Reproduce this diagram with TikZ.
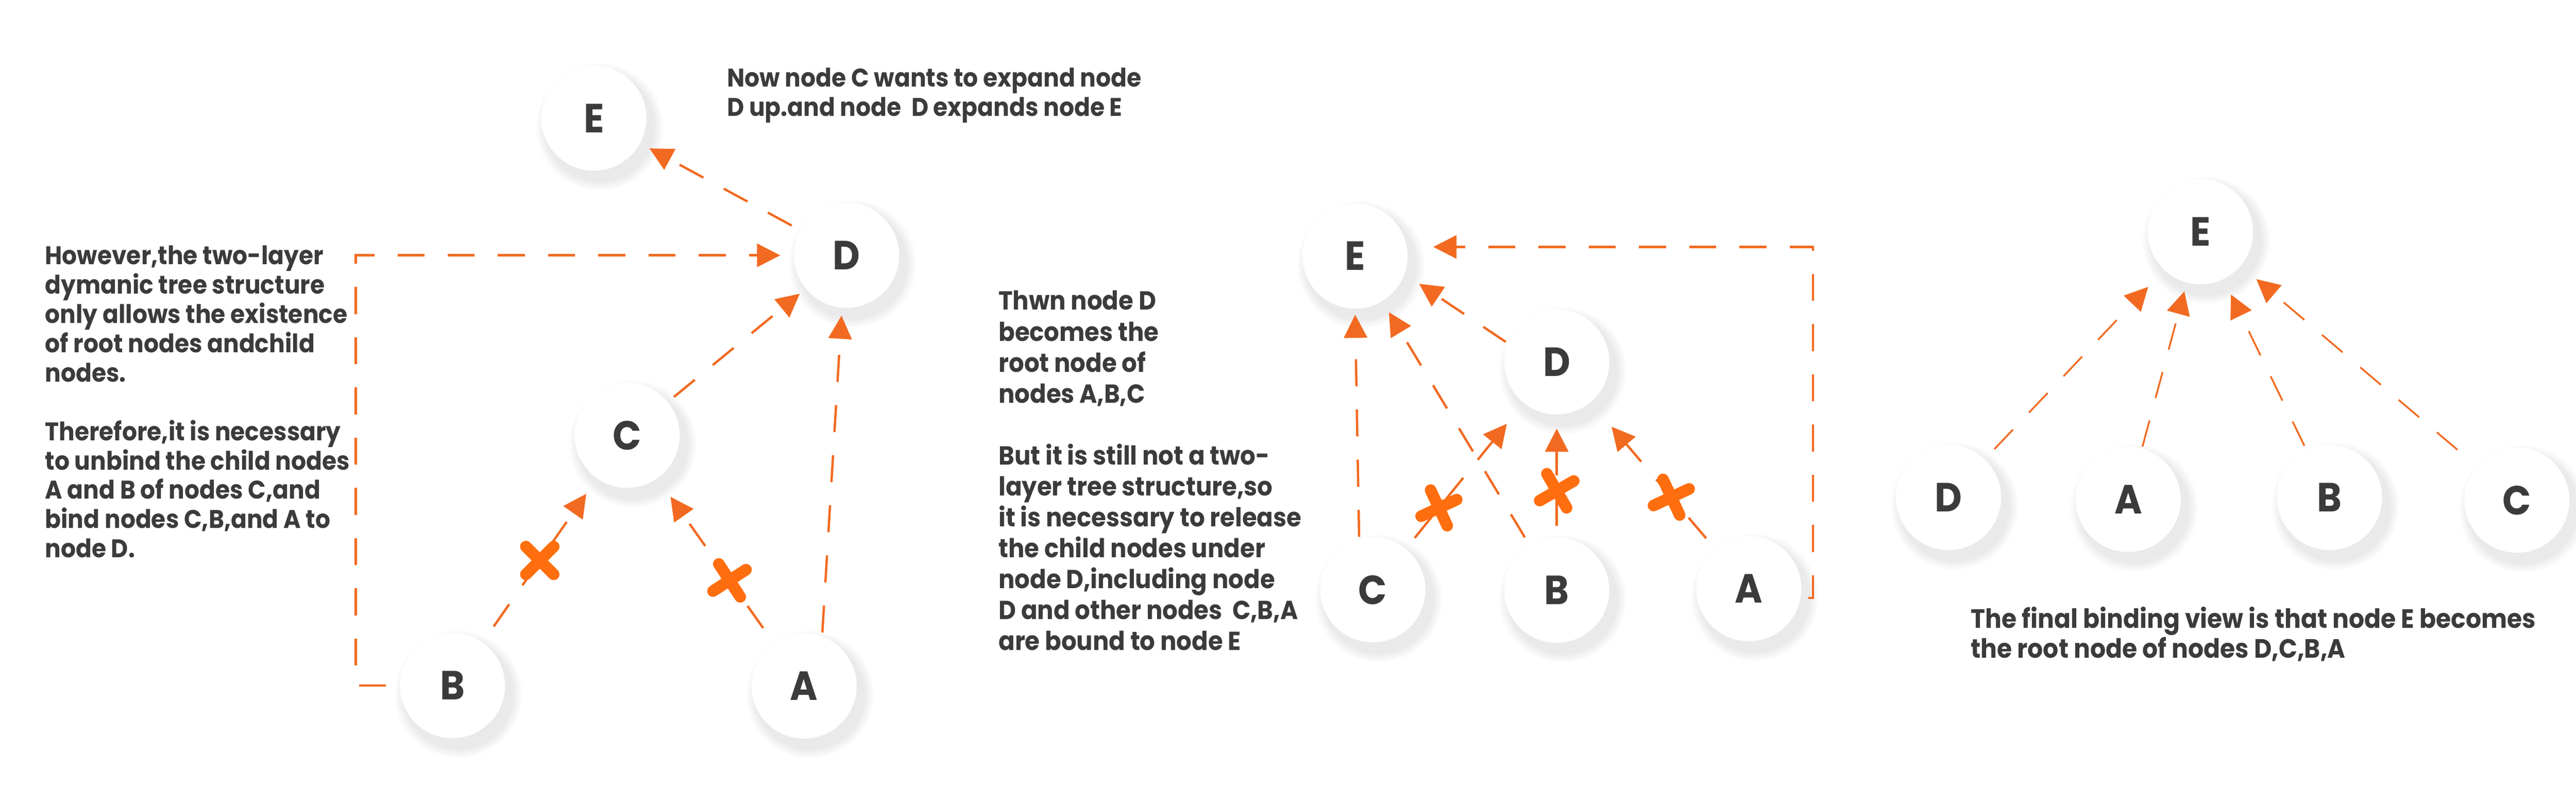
\documentclass[tikz,border=0pt]{standalone}
\usepackage{fontspec}
\setmainfont{Poppins}[FakeStretch=0.92]
\usetikzlibrary{arrows.meta,shadows,shapes.misc,calc}

\definecolor{ink}{HTML}{3B3B3B}
\definecolor{flame}{HTML}{F26A21}
\definecolor{flamex}{HTML}{FF6E0E}

\tikzset{
	vertex/.style={
		circle,
		fill=white,
		minimum size=2.72cm,
		inner sep=0pt,
		text=ink,
		font=\fontsize{30}{30}\selectfont\bfseries,
		circular drop shadow={shadow xshift=0.12cm, shadow yshift=-0.18cm, shadow scale=1.22, opacity=0.16}
	},
	note/.style={
		align=left,
		inner sep=0pt,
		anchor=north west,
		text=ink,
		font=\fontsize{18.8}{21.6}\selectfont\bfseries
	},
	link/.style={
		draw=flame,
		line width=0.06cm,
		dash pattern=on 0.7cm off 0.6cm,
		-{Triangle[length=0.6cm,width=0.6cm]}
	},
	xmark/.style={
		solid,
		cross out,
		draw=flamex,
		line width=0.3cm,
		line cap=round,
		shorten <=0pt,
		shorten >=0pt,
		minimum size=0.42cm,
		inner sep=0pt
	}
}

\begin{document}
\begin{tikzpicture}

\useasboundingbox[fill=white] (0,0) rectangle (66.67,-20.84);

% first step
\node[vertex] (E1) at (15.37,-3.06) {E};
\node[vertex] (D1) at (21.91,-6.61) {D};
\node[vertex] (C1) at (16.23,-11.27) {C};
\node[vertex] (B1) at (11.71,-17.75) {B};
\node[vertex] (A1) at (20.81,-17.76) {A};
\coordinate (frame1) at (9.21,0);

\node[note] (text1) at (1.16,-6.35) {However,the two-layer\\dymanic tree structure\\only allows the existence\\of root nodes andchild\\nodes.\\[0.76cm]Therefore,it is necessary\\to unbind the child nodes\\A and B of nodes C,and\\bind nodes C,B,and A to\\node D.};
\node[note] (text0) at (18.81,-1.75) {Now node C wants to expand node\\D up.and node~ D expands node E};

\draw[link, shorten <=0.25cm, shorten >=0.27cm] (D1) -- (E1);
\draw[link, shorten <=0.2cm, shorten >=0.2cm] (C1) -- (D1);
\draw[link, shorten <=0.1cm, shorten >=0.2cm] (A1.70) -- (D1.265);
\draw[link, shorten <=0.5cm, shorten >=0.48cm] (B1) -- node[xmark] (x1) {} (C1);
\draw[link, shorten <=0.47cm, shorten >=0.58cm] (A1) -- node[xmark, pos=0.38, rotate=-12] (x2) {} (C1);
\draw[link, shorten <=0.35cm, shorten >=0.35cm] (B1.west) -| (frame1 |- D1.west) -- (D1.west);

% second step
\node[vertex] (E2) at (35.07,-6.63) {E};
\node[vertex] (D2) at (40.29,-9.37) {D};
\node[vertex] (C2) at (35.53,-15.27) {C};
\node[vertex] (B2) at (40.29,-15.28) {B};
\node[vertex] (A2) at (45.26,-15.24) {A};
\coordinate (frame2) at (46.92,0);

\node[note, font=\fontsize{19.2}{22.8}\selectfont\bfseries] (text2) at (25.84,-7.52) {Thwn node D\\becomes the\\root node of\\nodes A,B,C\\[0.8cm]But it is still not a two-\\layer tree structure,so\\it is necessary to release\\the child nodes under\\node D,including node\\D and other nodes~ C,B,A\\are bound to node E};

\draw[link, shorten <=0.05cm, shorten >=0.15cm] (C2.105) -- (E2.south);
\draw[link, shorten <=0.23cm, shorten >=0.33cm] (B2) -- (E2);
\draw[link, shorten <=0.05cm, shorten >=0.45cm] (D2.159) -- (E2.-20);
\draw[link, shorten <=0.36cm, shorten >=0.69cm] (C2) -- node[xmark, pos=0.28, rotate=-20] (x3) {} (D2);
\draw[link, shorten <=0.3cm, shorten >=0.36cm] (B2) -- node[xmark, pos=0.38, rotate=-15] (x4) {} (D2);
\draw[link, shorten <=0.34cm, shorten >=0.83cm] (A2) -- node[xmark, pos=0.35, rotate=-20] (x5) {} (D2);
\draw[link, shorten <=0.2cm, shorten >=0.68cm] (A2.-10) -| (frame2 |- E2.10) -- (E2.10);

% final step
\node[vertex] (E3) at (56.95,-6.00) {E};
\node[vertex] (D3) at (50.43,-12.88) {D};
\node[vertex] (A3) at (55.08,-12.93) {A};
\node[vertex] (B3) at (60.29,-12.88) {B};
\node[vertex] (C3) at (65.14,-12.95) {C};

\node[note, font=\fontsize{19.5}{22.2}\selectfont\bfseries] (text3) at (51.00,-15.70) {The final binding view is that node E becomes\\the root node of nodes D,C,B,A};

\draw[link, line width=0.045cm, shorten <=0.36cm, shorten >=0.6cm] (D3) -- (E3);
\draw[link, line width=0.045cm, shorten <=0.05cm, shorten >=0.23cm] (A3) -- (E3);
\draw[link, line width=0.045cm, shorten <=0.12cm, shorten >=0.44cm] (B3) -- (E3);
\draw[link, line width=0.045cm, shorten <=0.65cm, shorten >=0.53cm] (C3) -- (E3);

\end{tikzpicture}
\end{document}
